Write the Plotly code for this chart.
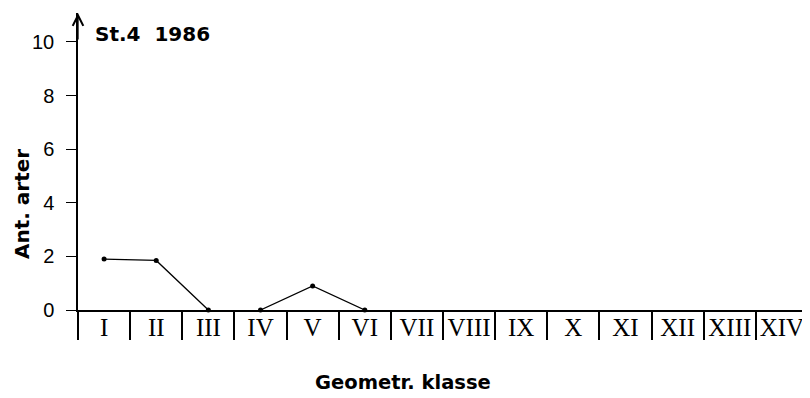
import plotly.graph_objects as go

# geometric classes I..XIV, number of species per class (St.4, 1986)
klasser = ["I", "II", "III", "IV", "V", "VI", "VII", "VIII", "IX", "X", "XI", "XII", "XIII", "XIV"]
seg1_pos = [1, 2, 3]
seg1_ant = [1.9, 1.85, 0]
seg2_pos = [4, 5, 6]
seg2_ant = [0, 0.9, 0]
y_ticks = [0, 2, 4, 6, 8, 10]

YTOP = 11.08
line = dict(color="black", width=1.3)
marker = dict(color="black", size=5)

fig = go.Figure()
for xs, ys in [(seg1_pos, seg1_ant), (seg2_pos, seg2_ant)]:
    fig.add_trace(go.Scatter(x=xs, y=ys, mode="lines+markers", line=line,
                             marker=marker, showlegend=False, cliponaxis=False))

fig.update_xaxes(
    range=[0.5, 14.5],
    automargin=False,
    tickmode="array",
    tickvals=list(range(1, len(klasser) + 1)),
    ticktext=klasser,
    ticks="",
    ticklabelstandoff=-6,
    showline=True, linecolor="black", linewidth=1.5,
    showgrid=False, zeroline=False,
    tickfont=dict(family="Liberation Serif, DejaVu Serif, serif", size=25, color="black"),
    minor=dict(tickmode="linear", tick0=0.5, dtick=1, ticks="outside",
               ticklen=28, tickwidth=1.5, tickcolor="black", showgrid=False),
)
fig.update_yaxes(
    range=[0, YTOP],
    automargin=False,
    tickmode="array",
    tickvals=y_ticks,
    ticks="outside", ticklen=10, tickwidth=1, tickcolor="black",
    ticklabelstandoff=8,
    showline=True, linecolor="black", linewidth=1.5,
    showgrid=False, zeroline=False,
    tickfont=dict(family="Liberation Sans Narrow, Liberation Sans, sans-serif", size=20, color="black"),
)

# the page has an 8px body margin, so the figure is laid out 8px up and left
OFF = 8
W, H = 810 - OFF, 398 - OFF
L, T, B = 78 - OFF, 13 - OFF, 398 - 310
PW, PH = W - L - 2, H - T - B


def px(x):
    return (x - OFF - L) / PW


def py(y):
    return (H - B - (y - OFF)) / PH


bold = dict(family="DejaVu Sans, Liberation Sans, sans-serif", color="black", weight="bold")
fig.add_annotation(x=0.5, y=YTOP, xref="x", yref="y", ax=0, ay=28, text="",
                   showarrow=True, arrowhead=5, arrowsize=1.6, arrowwidth=1.3,
                   arrowcolor="black")
fig.add_annotation(x=px(93), y=py(34), xref="paper", yref="paper",
                   xanchor="left", yanchor="middle", text="St.4  1986", showarrow=False,
                   font=dict(size=20, **bold))
fig.add_annotation(x=px(403), y=py(382), xref="paper", yref="paper",
                   xanchor="center", yanchor="middle", text="Geometr. klasse",
                   showarrow=False, font=dict(size=19.5, **bold))
fig.add_annotation(x=px(22), y=py(204), xref="paper", yref="paper",
                   xanchor="center", yanchor="middle", text="Ant. arter", textangle=-90,
                   showarrow=False, font=dict(size=20, **bold))

fig.update_layout(
    width=W, height=H,
    margin=dict(l=L, r=2, t=T, b=B),
    plot_bgcolor="white", paper_bgcolor="white",
)
fig.write_html("out.html")
